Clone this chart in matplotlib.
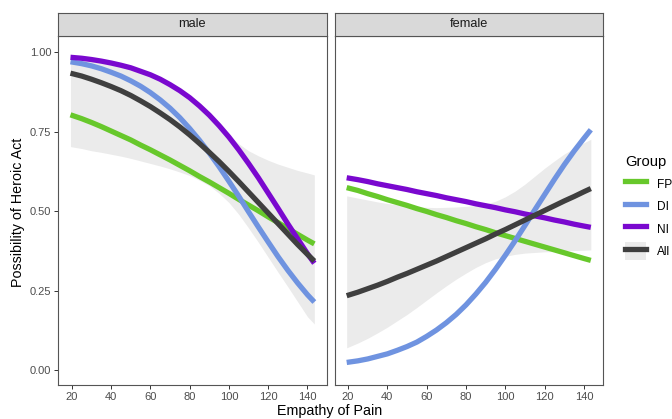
import numpy as np
import matplotlib
matplotlib.use("Agg")
import matplotlib.pyplot as plt
from matplotlib.lines import Line2D
from matplotlib.patches import Patch

plt.rcParams["font.family"] = ["Liberation Sans", "DejaVu Sans"]

# empathy of pain grid
empathy = [19.3, 25, 30, 35, 40, 45, 50, 55, 60, 65, 70, 75, 80, 85, 90, 95, 100,
           105, 110, 115, 120, 125, 130, 135, 140, 143.5]

# male panel
male_fp = [0.803, 0.791, 0.779, 0.766, 0.752, 0.738, 0.724, 0.708, 0.693, 0.677, 0.661, 0.644, 0.627,
           0.609, 0.592, 0.574, 0.556, 0.537, 0.519, 0.501, 0.482, 0.464, 0.445, 0.427, 0.409, 0.397]
male_di = [0.970, 0.964, 0.957, 0.948, 0.937, 0.925, 0.910, 0.893, 0.873, 0.850, 0.824, 0.794, 0.760,
           0.723, 0.683, 0.640, 0.594, 0.547, 0.498, 0.450, 0.403, 0.357, 0.314, 0.274, 0.237, 0.214]
male_ni = [0.984, 0.981, 0.977, 0.972, 0.966, 0.959, 0.951, 0.940, 0.929, 0.915, 0.898, 0.879, 0.857,
           0.831, 0.802, 0.769, 0.733, 0.693, 0.650, 0.605, 0.557, 0.509, 0.460, 0.413, 0.366, 0.336]
male_all = [0.934, 0.925, 0.915, 0.904, 0.892, 0.879, 0.864, 0.847, 0.829, 0.809, 0.788, 0.765, 0.740,
            0.713, 0.685, 0.656, 0.625, 0.593, 0.560, 0.527, 0.494, 0.461, 0.428, 0.395, 0.364, 0.343]
male_lo = [0.703, 0.697, 0.690, 0.685, 0.679, 0.673, 0.666, 0.658, 0.650, 0.642, 0.633, 0.623, 0.612,
           0.597, 0.580, 0.556, 0.527, 0.490, 0.447, 0.402, 0.355, 0.308, 0.262, 0.215, 0.168, 0.145]
male_hi = [0.988, 0.984, 0.980, 0.975, 0.968, 0.961, 0.952, 0.942, 0.930, 0.916, 0.900, 0.881, 0.860,
           0.836, 0.808, 0.776, 0.740, 0.712, 0.690, 0.674, 0.660, 0.648, 0.638, 0.628, 0.620, 0.614]

# female panel
female_fp = [0.574, 0.565, 0.555, 0.546, 0.536, 0.527, 0.518, 0.508, 0.499, 0.489, 0.480, 0.470, 0.461,
             0.451, 0.442, 0.432, 0.423, 0.414, 0.405, 0.396, 0.387, 0.378, 0.369, 0.360, 0.351, 0.345]
female_di = [0.024, 0.029, 0.035, 0.043, 0.051, 0.062, 0.074, 0.088, 0.106, 0.126, 0.149, 0.175, 0.205,
             0.239, 0.276, 0.317, 0.361, 0.407, 0.455, 0.504, 0.552, 0.600, 0.646, 0.689, 0.729, 0.756]
female_ni = [0.605, 0.599, 0.593, 0.586, 0.580, 0.574, 0.568, 0.561, 0.555, 0.549, 0.542, 0.536, 0.530,
             0.523, 0.517, 0.511, 0.504, 0.498, 0.491, 0.485, 0.479, 0.472, 0.466, 0.459, 0.453, 0.449]
female_all = [0.234, 0.245, 0.256, 0.267, 0.279, 0.292, 0.304, 0.317, 0.330, 0.343, 0.357, 0.371, 0.385,
              0.399, 0.413, 0.428, 0.442, 0.457, 0.472, 0.487, 0.502, 0.517, 0.532, 0.546, 0.561, 0.571]
female_lo = [0.070, 0.085, 0.100, 0.117, 0.135, 0.155, 0.175, 0.197, 0.220, 0.243, 0.265, 0.286, 0.305,
             0.323, 0.338, 0.350, 0.358, 0.364, 0.368, 0.370, 0.372, 0.373, 0.375, 0.376, 0.377, 0.378]
female_hi = [0.548, 0.541, 0.535, 0.529, 0.524, 0.520, 0.516, 0.514, 0.512, 0.511, 0.512, 0.513, 0.515,
             0.518, 0.522, 0.531, 0.545, 0.563, 0.585, 0.610, 0.635, 0.658, 0.680, 0.698, 0.715, 0.726]

groups = ["FP", "DI", "NI", "All"]
colors = {"FP": "#67c82b", "DI": "#6f93e0", "NI": "#7a08cf", "All": "#3f3f3f"}

panels = [
    ("male", {"FP": male_fp, "DI": male_di, "NI": male_ni, "All": male_all}, male_lo, male_hi),
    ("female", {"FP": female_fp, "DI": female_di, "NI": female_ni, "All": female_all}, female_lo, female_hi),
]

W, H = 672, 419
fig = plt.figure(figsize=(W / 100, H / 100), dpi=100)


def px_axes(left, top, right, bottom):
    return fig.add_axes([left / W, (H - bottom) / H, (right - left) / W, (bottom - top) / H])


lefts = [(58.3, 326.5), (334.5, 603.0)]
edge = "#555555"
for (name, series, lo, hi), (l, r) in zip(panels, lefts):
    ax = px_axes(l, 36, r, 385)
    ax.fill_between(empathy, lo, hi, color="#ebebeb", lw=0, zorder=1)
    for g in groups:
        ax.plot(empathy, series[g], color=colors[g], lw=3.8, solid_capstyle="butt",
                solid_joinstyle="round", zorder=2)
    ax.set_xlim(13.1, 149.7)
    ax.set_ylim(-0.047, 1.051)
    ax.set_xticks([20, 40, 60, 80, 100, 120, 140])
    ax.set_yticks([0, 0.25, 0.5, 0.75, 1.0])
    ax.set_yticklabels(["0.00", "0.25", "0.50", "0.75", "1.00"])
    ax.tick_params(length=3, width=0.7, color="#333333", labelsize=8,
                   labelcolor="#4d4d4d", pad=2)
    for s in ax.spines.values():
        s.set_color(edge)
        s.set_linewidth(0.8)
    if name == "female":
        ax.tick_params(axis="y", left=False, labelleft=False)
    # facet strip
    st = px_axes(l, 12.7, r, 36)
    st.set_xticks([])
    st.set_yticks([])
    st.set_facecolor("#d9d9d9")
    for s in st.spines.values():
        s.set_color(edge)
        s.set_linewidth(0.8)
    st.text(0.5, 0.5, name, ha="center", va="center", fontsize=9.2, color="#1a1a1a",
            transform=st.transAxes)

fig.text(330 / W, 1 - 411 / H, "Empathy of Pain", ha="center", va="center", fontsize=10.3)
fig.text(18 / W, 1 - 212 / H, "Possibility of Heroic Act", ha="center", va="center",
         rotation=90, fontsize=10.3)

# legend (title placed separately to match ggplot spacing)
fig.text(625 / W, 1 - 162 / H, "Group", ha="left", va="center", fontsize=10.6)
handles = [Line2D([], [], color=colors[g], lw=3.8) for g in groups[:3]]
handles.append((Patch(facecolor="#ebebeb", edgecolor="none"),
                Line2D([], [], color=colors["All"], lw=3.8)))
leg = fig.legend(handles, groups, loc="upper left", bbox_to_anchor=(625 / W, 1 - 175 / H),
                 frameon=False, fontsize=8.6,
                 handlelength=1.75, handleheight=1.9, labelspacing=0.4, handletextpad=0.9,
                 borderpad=0, borderaxespad=0)

fig.savefig("out.png", dpi=100)
